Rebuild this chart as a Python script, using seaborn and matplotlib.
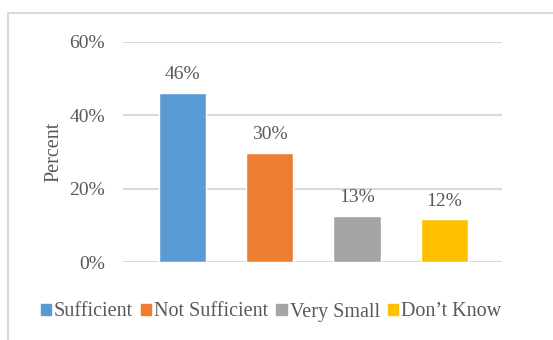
import matplotlib
matplotlib.use("Agg")
import matplotlib.pyplot as plt
import matplotlib.patches as mpatches
import seaborn as sns
import pandas as pd

categories = ["Sufficient", "Not Sufficient", "Very Small", "Don\u2019t Know"]
percent = [46.1, 29.8, 12.6, 11.6]
colors = ["#5B9BD5", "#ED7D31", "#A5A5A5", "#FFC000"]
yticks = [0, 20, 40, 60]

sns.set_theme(style="white")
plt.rcParams["font.family"] = ["Liberation Serif", "DejaVu Serif"]
text_color = "#595959"

df = pd.DataFrame({"category": categories, "percent": percent})

fig = plt.figure(figsize=(5.53, 3.40), dpi=100)
ax = fig.add_axes([0.2224, 0.2294, 0.6854, 0.6471])

sns.barplot(data=df, x="category", y="percent", hue="category",
            palette=colors, dodge=False, width=0.54, saturation=1,
            legend=False, ax=ax)

ax.set_ylim(0, 60)
ax.set_xlim(-0.68, 3.66)
ax.set_yticks(yticks)
ax.set_yticklabels([f"{t}%" for t in yticks], fontsize=14, color=text_color)
ax.tick_params(axis="y", length=0, pad=13)
ax.set_xticks([])
ax.set_xlabel("")
ax.set_ylabel("Percent", fontsize=14.5, color=text_color, labelpad=4)
ax.grid(axis="y", color="#D9D9D9", linewidth=1.5)
ax.set_axisbelow(True)
for s in ax.spines.values():
    s.set_visible(False)

for i, v in enumerate(percent):
    ax.annotate(f"{v:.0f}%", xy=(i, v), xytext=(0, 13), textcoords="offset points",
                ha="center", va="center", fontsize=14, color=text_color)

handles = [mpatches.Patch(color=c, label=l) for c, l in zip(colors, categories)]
leg = fig.legend(handles=handles, loc="center", bbox_to_anchor=(0.49, 1 - 312 / 340),
                 ncol=4, frameon=False, fontsize=14.5, handlelength=0.5,
                 handleheight=0.5, handletextpad=0.15, columnspacing=0.4,
                 borderpad=0, borderaxespad=0)
for t in leg.get_texts():
    t.set_color(text_color)

# outer chart frame
fig.add_artist(mpatches.Rectangle((7.5 / 553, -0.05), 1.0, 1 - 13 / 340 + 0.05,
                                  transform=fig.transFigure, fill=False,
                                  edgecolor="#D9D9D9", linewidth=1.5))

fig.savefig("out.png", dpi=100, facecolor="white")
